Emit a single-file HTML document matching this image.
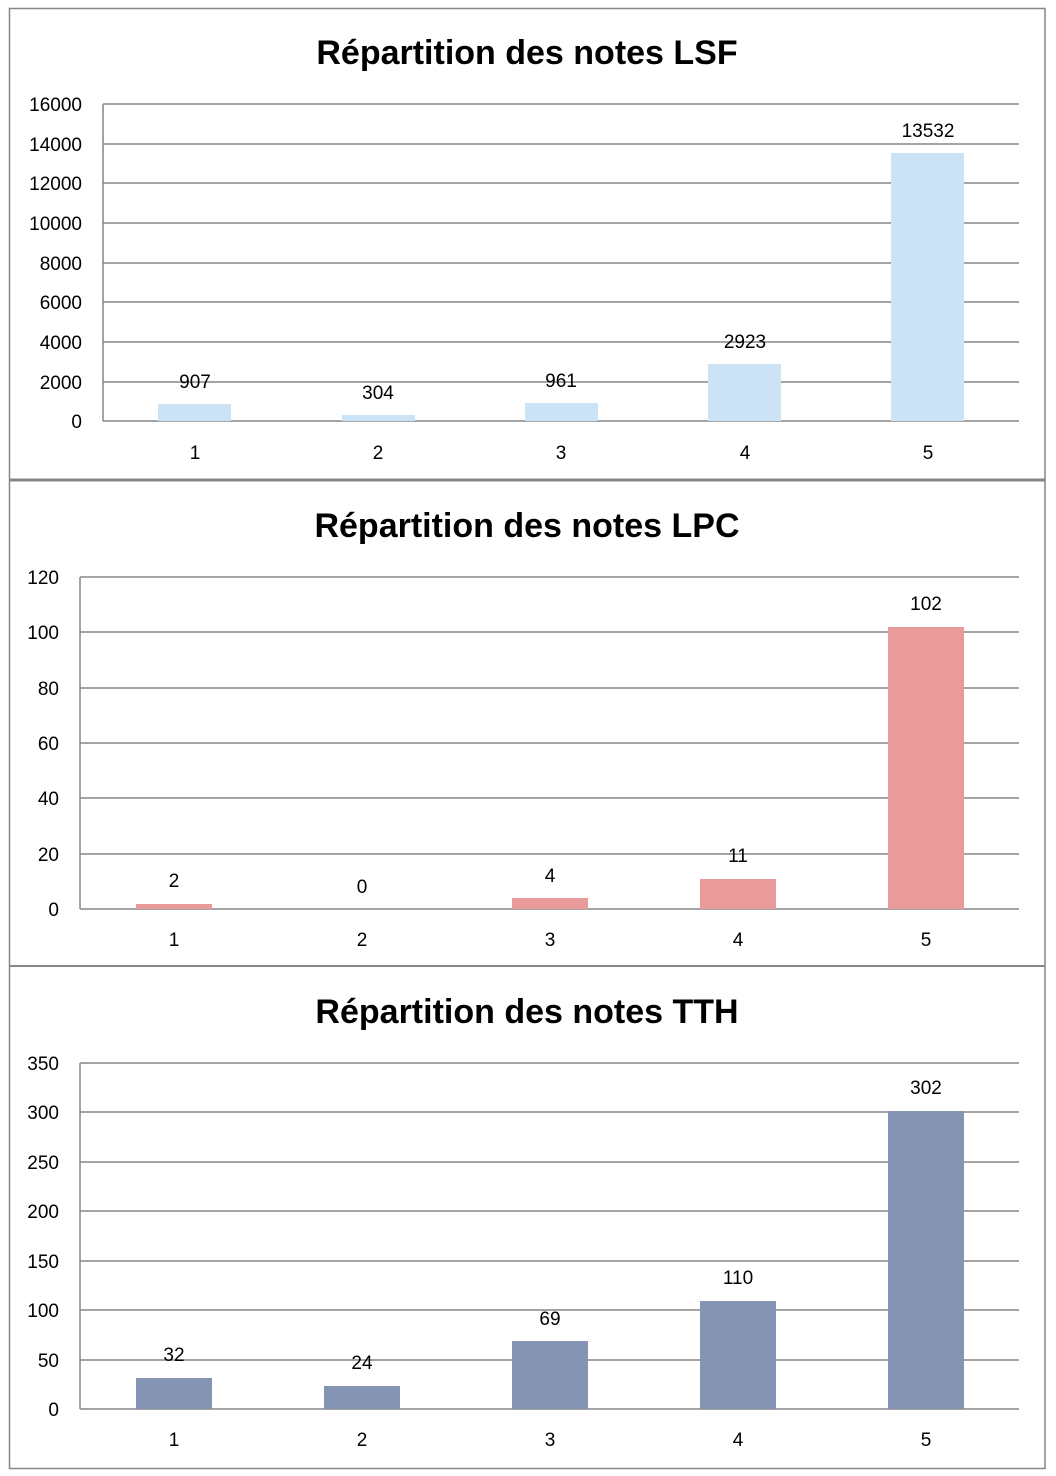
<!DOCTYPE html>
<html><head><meta charset="utf-8"><style>
html,body{margin:0;padding:0;background:#fff}
svg{display:block}
text{font-family:"Liberation Sans",sans-serif;font-size:19px;fill:#000}
.t{font-size:34px;font-weight:bold}
.g{stroke:#868686;stroke-width:1.5}
</style></head><body>
<svg width="1056" height="1476" viewBox="0 0 1056 1476">
<rect x="9.5" y="8.5" width="1035.5" height="1460" fill="#fff" stroke="#868686" stroke-width="1.5"/>
<line x1="9" y1="480" x2="1045" y2="480" stroke="#868686" stroke-width="3"/>
<line x1="9" y1="966" x2="1045" y2="966" stroke="#868686" stroke-width="2"/>

<!-- Chart 1 -->
<text class="t" x="527" y="64" text-anchor="middle">Répartition des notes LSF</text>
<g class="g">
<line x1="103" y1="104" x2="1019" y2="104"/><line x1="103" y1="144" x2="1019" y2="144"/>
<line x1="103" y1="183" x2="1019" y2="183"/><line x1="103" y1="223" x2="1019" y2="223"/>
<line x1="103" y1="263" x2="1019" y2="263"/><line x1="103" y1="302" x2="1019" y2="302"/>
<line x1="103" y1="342" x2="1019" y2="342"/><line x1="103" y1="382" x2="1019" y2="382"/>
<line x1="103" y1="421" x2="1019" y2="421"/><line x1="103" y1="104" x2="103" y2="421"/>
</g>
<g text-anchor="end">
<text x="82" y="111">16000</text><text x="82" y="151">14000</text><text x="82" y="190">12000</text>
<text x="82" y="230">10000</text><text x="82" y="270">8000</text><text x="82" y="309">6000</text>
<text x="82" y="349">4000</text><text x="82" y="389">2000</text><text x="82" y="428">0</text>
</g>
<g fill="#cce3f6">
<rect x="158" y="404" width="73" height="17"/><rect x="342" y="415" width="73" height="6"/>
<rect x="525" y="403" width="73" height="18"/><rect x="708" y="364" width="73" height="57"/>
<rect x="891" y="153" width="73" height="268"/>
</g>
<g text-anchor="middle">
<text x="195" y="388">907</text><text x="378" y="399">304</text><text x="561" y="387">961</text>
<text x="745" y="348">2923</text><text x="928" y="137">13532</text>
<text x="195" y="459">1</text><text x="378" y="459">2</text><text x="561" y="459">3</text>
<text x="745" y="459">4</text><text x="928" y="459">5</text>
</g>

<!-- Chart 2 -->
<text class="t" x="527" y="537" text-anchor="middle">Répartition des notes LPC</text>
<g class="g">
<line x1="80" y1="577" x2="1019" y2="577"/><line x1="80" y1="632" x2="1019" y2="632"/>
<line x1="80" y1="688" x2="1019" y2="688"/><line x1="80" y1="743" x2="1019" y2="743"/>
<line x1="80" y1="798" x2="1019" y2="798"/><line x1="80" y1="854" x2="1019" y2="854"/>
<line x1="80" y1="909" x2="1019" y2="909"/><line x1="80" y1="577" x2="80" y2="909"/>
</g>
<g text-anchor="end">
<text x="59" y="584">120</text><text x="59" y="639">100</text><text x="59" y="695">80</text>
<text x="59" y="750">60</text><text x="59" y="805">40</text><text x="59" y="861">20</text><text x="59" y="916">0</text>
</g>
<g fill="#e99a9b">
<rect x="136" y="904" width="76" height="5"/><rect x="512" y="898" width="76" height="11"/>
<rect x="700" y="879" width="76" height="30"/><rect x="888" y="627" width="76" height="282"/>
</g>
<g text-anchor="middle">
<text x="174" y="887">2</text><text x="362" y="893">0</text><text x="550" y="882">4</text>
<text x="738" y="862">11</text><text x="926" y="610">102</text>
<text x="174" y="946">1</text><text x="362" y="946">2</text><text x="550" y="946">3</text>
<text x="738" y="946">4</text><text x="926" y="946">5</text>
</g>

<!-- Chart 3 -->
<text class="t" x="527" y="1023" text-anchor="middle">Répartition des notes TTH</text>
<g class="g">
<line x1="80" y1="1063" x2="1019" y2="1063"/><line x1="80" y1="1112" x2="1019" y2="1112"/>
<line x1="80" y1="1162" x2="1019" y2="1162"/><line x1="80" y1="1211" x2="1019" y2="1211"/>
<line x1="80" y1="1261" x2="1019" y2="1261"/><line x1="80" y1="1310" x2="1019" y2="1310"/>
<line x1="80" y1="1360" x2="1019" y2="1360"/><line x1="80" y1="1409" x2="1019" y2="1409"/>
<line x1="80" y1="1063" x2="80" y2="1409"/>
</g>
<g text-anchor="end">
<text x="59" y="1070">350</text><text x="59" y="1119">300</text><text x="59" y="1169">250</text>
<text x="59" y="1218">200</text><text x="59" y="1268">150</text><text x="59" y="1317">100</text>
<text x="59" y="1367">50</text><text x="59" y="1416">0</text>
</g>
<g fill="#8594b2">
<rect x="136" y="1378" width="76" height="31"/><rect x="324" y="1386" width="76" height="23"/>
<rect x="512" y="1341" width="76" height="68"/><rect x="700" y="1301" width="76" height="108"/>
<rect x="888" y="1111" width="76" height="298"/>
</g>
<g text-anchor="middle">
<text x="174" y="1361">32</text><text x="362" y="1369">24</text><text x="550" y="1325">69</text>
<text x="738" y="1284">110</text><text x="926" y="1094">302</text>
<text x="174" y="1446">1</text><text x="362" y="1446">2</text><text x="550" y="1446">3</text>
<text x="738" y="1446">4</text><text x="926" y="1446">5</text>
</g>
</svg>
</body></html>
